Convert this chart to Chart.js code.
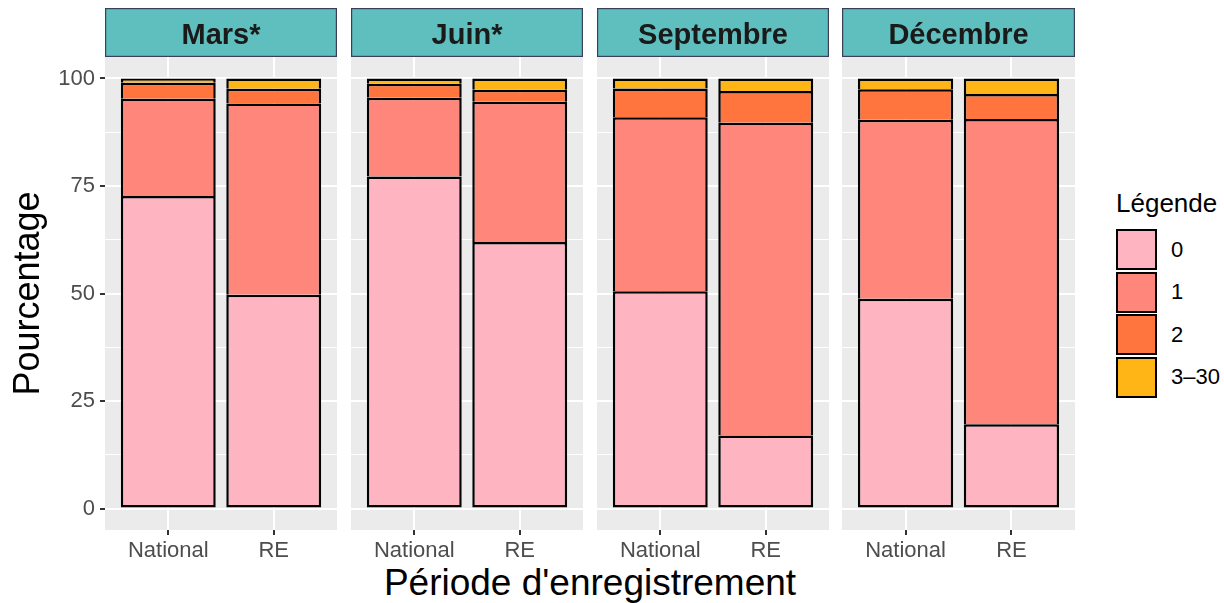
<!DOCTYPE html>
<html>
<head>
<meta charset="utf-8">
<script src="https://cdn.jsdelivr.net/npm/chart.js@4.4.1/dist/chart.umd.min.js"></script>
<style>
  body { margin: 0; background: #fff; width: 1224px; height: 603px; overflow: hidden; position: relative;
         font-family: "Liberation Sans", Arial, sans-serif; }
  .facet { position: absolute; top: 0; height: 603px; }
  #xtitle { position: absolute; left: 105px; width: 970px; top: 564px; text-align: center;
            font-size: 37px; line-height: 1; color: #000; white-space: nowrap; }
  #legend-title { position: absolute; left: 1116px; top: 190px; font-size: 26px; line-height: 1; color: #000; }
  .key { position: absolute; left: 1116px; width: 41px; height: 41px; box-sizing: border-box; border: 2px solid #000; }
  .key-label { position: absolute; left: 1171px; font-size: 22px; line-height: 22px; color: #000; }
</style>
</head>
<body>
<div id="xtitle">Période d'enregistrement</div>
<div id="legend-title">Légende</div>
<script>
// facets and groups
const months = ['Mars*', 'Juin*', 'Septembre', 'Décembre'];
const groups = ['National', 'RE'];
const levels = ['0', '1', '2', '3–30'];
const fills = ['#FFB5C1', '#FF867A', '#FF753D', '#FFB515'];

// percentages, order: Mars Nat, Mars RE, Juin Nat, Juin RE, Sept Nat, Sept RE, Dec Nat, Dec RE
const share0 = [72.7, 49.7, 77.2, 62.0, 50.5, 17.0, 48.8, 19.6];
const share1 = [22.6, 44.5, 18.3, 32.6, 40.5, 72.7, 41.6, 71.0];
const share2 = [3.7, 3.4, 3.3, 2.8, 6.7, 7.4, 7.1, 5.8];
const share3 = [1.0, 2.4, 1.2, 2.6, 2.3, 2.9, 2.5, 3.6];
const shares = [share0, share1, share2, share3];

const yBreaks = [0, 25, 50, 75, 100];
const yMinor = [12.5, 37.5, 62.5, 87.5];

Chart.defaults.font.family = '"Liberation Sans", Arial, sans-serif';
Chart.defaults.animation = false;

// panel geometry
const panelLeft = [105, 351, 597, 842];
const panelWidth = [232, 232, 232, 233];
const yAxisWidth = 105;

const stripPlugin = {
  id: 'strip',
  beforeDraw(chart, args, opts) {
    const { ctx, chartArea: a } = chart;
    ctx.save();
    ctx.fillStyle = '#EBEBEB';
    ctx.fillRect(a.left, a.top, a.width, a.height);
    ctx.fillStyle = '#5FBFBF';
    ctx.fillRect(a.left, 8.5, a.width, a.top - 8.5);
    ctx.strokeStyle = '#3A3F5C';
    ctx.lineWidth = 1.2;
    ctx.strokeRect(a.left + 0.6, 8.6, a.width - 1.2, a.top - 9.2);
    ctx.fillStyle = '#1A1A1A';
    ctx.font = 'bold 29px "Liberation Sans", Arial, sans-serif';
    ctx.textAlign = 'center';
    ctx.textBaseline = 'alphabetic';
    ctx.fillText(opts.text, (a.left + a.right) / 2, 44);
    ctx.restore();
  }
};

function makeFacet(k) {
  const first = k === 0;
  const div = document.createElement('div');
  div.className = 'facet';
  const left = first ? panelLeft[0] - yAxisWidth : panelLeft[k];
  const width = first ? panelWidth[0] + yAxisWidth : panelWidth[k];
  div.style.left = left + 'px';
  div.style.width = width + 'px';
  const canvas = document.createElement('canvas');
  div.appendChild(canvas);
  document.body.appendChild(div);

  const isMajor = v => yBreaks.includes(v);

  new Chart(canvas, {
    type: 'bar',
    data: {
      datasets: levels.map((lv, i) => ({
        label: lv,
        data: groups.map((g, j) => ({ x: j, y: shares[i][k * 2 + j] })),
        backgroundColor: fills[i],
        borderColor: '#000',
        borderWidth: 2.5,
        borderSkipped: i === 0 ? false : 'start',
        categoryPercentage: 1,
        barPercentage: 0.9
      }))
    },
    options: {
      responsive: true,
      maintainAspectRatio: false,
      devicePixelRatio: 1,
      layout: { padding: { top: 57, left: 0, right: 0, bottom: 0 } },
      plugins: {
        legend: { display: false },
        tooltip: { enabled: false },
        strip: { text: months[k] }
      },
      scales: {
        x: {
          type: 'linear',
          min: -0.6,
          max: 1.6,
          offset: false,
          stacked: true,
          afterBuildTicks: s => { s.ticks = groups.map((g, j) => ({ value: j })); },
          afterFit: s => { s.height = 73; },
          ticks: {
            callback: (v, idx) => groups[idx],
            color: '#4D4D4D',
            font: { size: 22 },
            padding: 3,
            maxRotation: 0,
            autoSkip: false
          },
          grid: { offset: false, color: '#FFFFFF', lineWidth: 2, tickLength: 5, tickColor: '#333333', tickWidth: 2 },
          border: { display: false }
        },
        y: {
          type: 'linear',
          min: -5,
          max: 105,
          stacked: true,
          afterBuildTicks: s => {
            s.ticks = [...yBreaks, ...yMinor].sort((a, b) => a - b).map(v => ({ value: v }));
          },
          afterFit: s => { s.width = first ? yAxisWidth : 0; },
          ticks: {
            display: first,
            callback: v => (isMajor(v) ? String(v) : ''),
            color: '#4D4D4D',
            font: { size: 22 },
            padding: 5
          },
          grid: {
            color: '#FFFFFF',
            lineWidth: c => (isMajor(c.tick.value) ? 2 : 1),
            drawTicks: first,
            tickLength: 5,
            tickWidth: 2,
            tickColor: c => (isMajor(c.tick.value) ? '#333333' : 'rgba(0,0,0,0)')
          },
          border: { display: false },
          title: {
            display: first,
            text: 'Pourcentage',
            color: '#000',
            font: { size: 36 },
            padding: { top: 7, bottom: 0 }
          }
        }
      }
    },
    plugins: [stripPlugin]
  });
}

months.forEach((m, k) => makeFacet(k));

// legend keys
const keyTops = [229, 271.5, 314, 356.5];
levels.forEach((lv, i) => {
  const box = document.createElement('div');
  box.className = 'key';
  box.style.top = keyTops[i] + 'px';
  box.style.background = fills[i];
  document.body.appendChild(box);
  const lab = document.createElement('div');
  lab.className = 'key-label';
  lab.style.top = (keyTops[i] + 9.5) + 'px';
  lab.textContent = lv;
  document.body.appendChild(lab);
});
</script>
</body>
</html>
